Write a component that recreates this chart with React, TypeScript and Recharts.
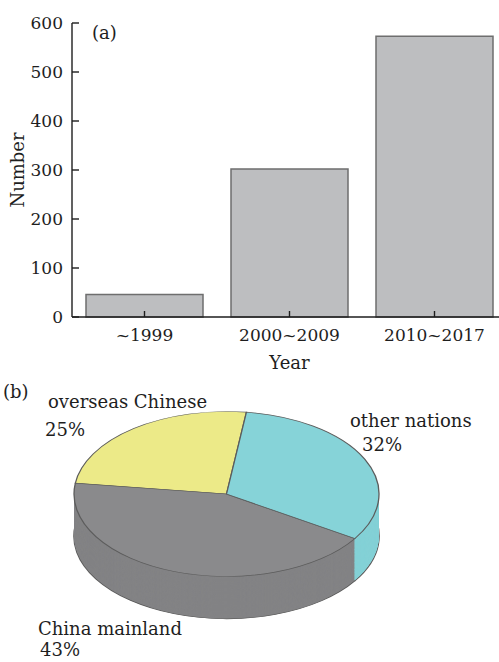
import React from "react";
import { BarChart, Bar, XAxis, YAxis, PieChart, Pie, Cell } from "recharts";

// (a) papers per period
const yearRanges = ["~1999", "2000~2009", "2010~2017"];
const paperCounts = [46, 302, 573];
const yTicks = [0, 100, 200, 300, 400, 500, 600];

// (b) share by region
const regionNames = ["overseas Chinese", "China mainland", "other nations"];
const regionShares = [25, 43, 32];

const barData = yearRanges.map((year, i) => ({ year, count: paperCounts[i] }));
const pieData = regionNames.map((name, i) => ({ name, value: regionShares[i] }));

const SERIF = '"DejaVu Serif", serif';
const INK = "#1e1e1e";
const TOP_COLORS = ["#ecea88", "#8a8a8c", "#86d3d8"];
const WALL_COLORS = ["#dcd97a", "#838385", "#84d1d6"];

const Y_GAP = 9;
const X_GAP = 12;

// pie is drawn round and squashed with scaleY to fake the 3D look
const SQUASH = 0.541;
const PIE_TOP = 380;
const PIE_CX = 226.5;
const PIE_CY = (494 - PIE_TOP) / SQUASH;
const PIE_R = 152.5;
const DEPTH = 78;
const wallSteps = Array.from({ length: DEPTH }, (_, i) => DEPTH - i);

function YTick(props: any) {
  const { x, y, payload } = props;
  return (
    <g>
      <line x1={x + Y_GAP} x2={x + Y_GAP + 7} y1={y} y2={y} stroke={INK} strokeWidth={1.4} />
      <text x={x} y={y} dy="0.36em" textAnchor="end" fontFamily={SERIF} fontSize={17} fill={INK}>
        {payload.value}
      </text>
    </g>
  );
}

function XTick(props: any) {
  const { x, y, payload } = props;
  return (
    <g>
      <line x1={x} x2={x} y1={y - X_GAP} y2={y - X_GAP - 6} stroke={INK} strokeWidth={1.4} />
      <text x={x} y={y} dy="0.72em" textAnchor="middle" fontFamily={SERIF} fontSize={17} fill={INK}>
        {payload.value}
      </text>
    </g>
  );
}

function NumberLabel(props: any) {
  const { viewBox } = props;
  const cx = viewBox.x + 18;
  const cy = viewBox.y + viewBox.height / 2;
  return (
    <text
      x={cx}
      y={cy}
      transform={`rotate(-90 ${cx} ${cy})`}
      textAnchor="middle"
      dy="0.36em"
      fontFamily={SERIF}
      fontSize={18}
      fill={INK}
    >
      Number
    </text>
  );
}

const textStyle: React.CSSProperties = {
  position: "absolute",
  fontFamily: SERIF,
  fontSize: 18,
  lineHeight: "18px",
  color: INK,
  whiteSpace: "nowrap",
};

export default function App() {
  return (
    <div
      style={{
        position: "fixed",
        left: 0,
        top: 0,
        width: 499,
        height: 662,
        overflow: "hidden",
        background: "#fff",
      }}
    >
      <div style={{ position: "absolute", left: 0, top: 0 }}>
        <BarChart width={520} height={372} data={barData} margin={{ top: 23, right: 13, bottom: 0, left: 0 }}>
          <Bar
            dataKey="count"
            fill="#bdbec0"
            stroke="#6e6e6e"
            strokeWidth={1.5}
            barSize={117}
            isAnimationActive={false}
          />
          <YAxis
            domain={[0, 600]}
            ticks={yTicks}
            interval={0}
            width={72}
            tickSize={0}
            tickMargin={Y_GAP}
            tickLine={false}
            tick={<YTick />}
            axisLine={{ stroke: INK, strokeWidth: 1.4 }}
            label={<NumberLabel />}
          />
          <XAxis
            dataKey="year"
            height={55}
            tickSize={0}
            tickMargin={X_GAP}
            tickLine={false}
            tick={<XTick />}
            interval={0}
            axisLine={{ stroke: INK, strokeWidth: 1.4 }}
            label={{ value: "Year", position: "insideBottom", offset: 3, fontFamily: SERIF, fontSize: 18, fill: INK }}
          />
        </BarChart>
      </div>
      <div style={{ ...textStyle, left: 92, top: 24 }}>(a)</div>

      <div
        style={{
          position: "absolute",
          left: 0,
          top: PIE_TOP,
          transform: `scaleY(${SQUASH})`,
          transformOrigin: "0 0",
        }}
      >
        <PieChart width={499} height={450} margin={{ top: 0, right: 0, bottom: 0, left: 0 }}>
          {wallSteps.map((d) => (
            <Pie
              key={`wall-${d}`}
              data={pieData}
              dataKey="value"
              cx={PIE_CX}
              cy={PIE_CY + d}
              outerRadius={PIE_R}
              startAngle={82.5}
              endAngle={442.5}
              label={false}
              labelLine={false}
              isAnimationActive={false}
            >
              {pieData.map((entry, i) => (
                <Cell
                  key={entry.name}
                  fill={WALL_COLORS[i]}
                  stroke={d === DEPTH ? "#5e5e5e" : "none"}
                  strokeWidth={d === DEPTH ? 1.6 : 0}
                />
              ))}
            </Pie>
          ))}
          <Pie
            data={pieData}
            dataKey="value"
            cx={PIE_CX}
            cy={PIE_CY}
            outerRadius={PIE_R}
            startAngle={82.5}
            endAngle={442.5}
            label={false}
            labelLine={false}
            isAnimationActive={false}
          >
            {pieData.map((entry, i) => (
              <Cell key={entry.name} fill={TOP_COLORS[i]} stroke="#5c5c5c" strokeWidth={1.3} />
            ))}
          </Pie>
        </PieChart>
      </div>

      <div style={{ ...textStyle, left: 3, top: 383 }}>(b)</div>
      <div style={{ ...textStyle, left: 48, top: 393 }}>overseas Chinese</div>
      <div style={{ ...textStyle, left: 45, top: 421 }}>25%</div>
      <div style={{ ...textStyle, left: 350, top: 412 }}>other nations</div>
      <div style={{ ...textStyle, left: 362, top: 436 }}>32%</div>
      <div style={{ ...textStyle, left: 38, top: 620 }}>China mainland</div>
      <div style={{ ...textStyle, left: 40, top: 641 }}>43%</div>
    </div>
  );
}
